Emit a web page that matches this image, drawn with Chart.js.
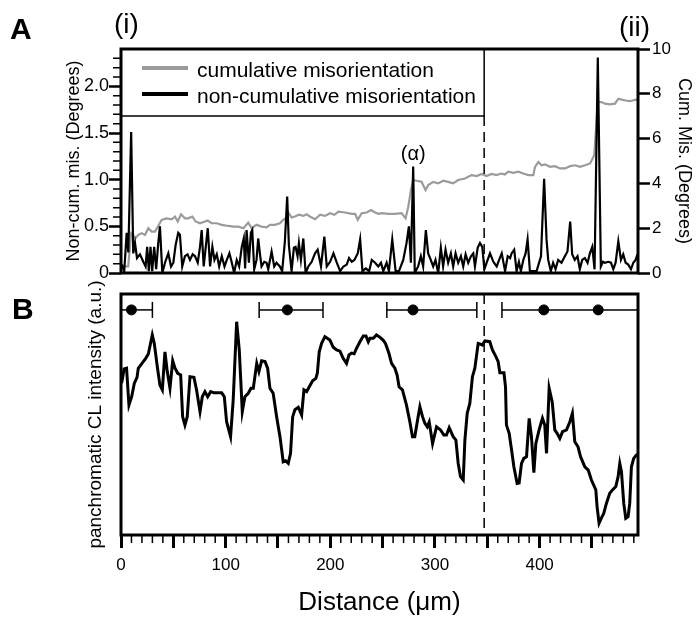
<!DOCTYPE html>
<html>
<head>
<meta charset="utf-8">
<script src="https://cdn.jsdelivr.net/npm/chart.js@4/dist/chart.umd.min.js"></script>
<style>
body { margin: 0; background: #fff; }
#wrap { position: relative; width: 696px; height: 622px; font-family: "Liberation Sans", Arial, sans-serif; }
canvas { position: absolute; left: 0; }
.lbl { position: absolute; line-height: 1; color: #000; white-space: nowrap; }
</style>
</head>
<body>
<div id="wrap">
  <canvas id="chartA" width="696" height="290" style="top:0"></canvas>
  <canvas id="chartB" width="696" height="342" style="top:280px"></canvas>
  <div class="lbl" style="left:10px;top:14px;font-size:30px;font-weight:bold">A</div>
  <div class="lbl" style="left:12px;top:294px;font-size:30px;font-weight:bold">B</div>
  <div class="lbl" style="left:114px;top:10px;font-size:28px">(i)</div>
  <div class="lbl" style="left:619px;top:13px;font-size:28px">(ii)</div>
</div>
<script>
// panel A: non-cumulative misorientation (left axis, degrees)
const noncumDist = [0.6, 3.1, 5.4, 7, 9.7, 11.7, 13.4, 15.3, 18.1, 21.3, 23.5, 25, 26.6, 28.2, 29.8, 31.7, 33.6, 35.6, 37.2, 39.5,
  42, 45.2, 47.8, 50, 52.2, 54.7, 56.3, 58.5, 61.1, 63.6, 65.9, 68.5, 70.7, 73.3, 75.5, 77.1, 79, 81, 82.9, 85.1,
  87.3, 89.3, 91.5, 93.8, 96.3, 98.9, 101.1, 103.6, 105.9, 108.1, 110.6, 112.9, 115.4, 117.3, 118.6, 120, 122.2, 124.1, 125.4, 127.3,
  129.5, 131.1, 132.7, 134.3, 136.9, 139.1, 140.7, 143.9, 146.4, 148.6, 151.8, 154, 156.6, 158.8, 160.4, 163, 165.2, 166.8, 168.7, 170,
  171.9, 174.2, 176.4, 179, 182.2, 185.4, 187.9, 191.1, 194.3, 196.6, 199.8, 203, 206.2, 209.4, 212.5, 215.7, 217.9, 220.5, 223, 226.2,
  228.5, 230.7, 233.9, 237.1, 239.6, 242.8, 245.8, 248.4, 250.6, 253.8, 256, 259.2, 262.4, 265.6, 269.7, 272.8, 275.1, 277, 279.2, 280.7,
  283.9, 286.5, 288.7, 291.3, 293.5, 296, 298.3, 300.5, 303.1, 305.6, 307.8, 310.1, 312.6, 315.2, 317.4, 319.7, 322.2, 324.8, 327, 329.3,
  331.8, 334.4, 336.6, 338.2, 340.8, 343, 345.2, 347.2, 349.4, 352.6, 355.8, 359, 361.3, 363.8, 367, 369.5, 371.8, 373.2, 375.7, 378,
  380.2, 382.1, 384.4, 386.6, 388.5, 390.7, 397.1, 401.3, 404.3, 406.6, 408.2, 410.7, 412.9, 415.2, 417.7, 420.9, 424.1, 426.6, 429.2, 431.1,
  433.6, 436.2, 438.4, 440.7, 443.2, 445.8, 448, 450.3, 452.5, 455.6, 458.5, 460.5, 462.4, 465.6, 468.2, 470.4, 472.6, 475.2, 477.7, 479.9,
  482.2, 484.7, 487.3, 489.5, 491.7, 493.5];
const noncumDeg = [0.09, 0.02, 0.43, 0.22, 1.51, 0.21, 0.32, 0.16, 0.2, 0.12, 0.07, 0.28, 0.02, 0.28, 0.02, 0.28, 0.04, 0.32, 0.5, 0,
  0.11, 0.21, 0.07, 0.11, 0.3, 0.43, 0.41, 0.07, 0.18, 0.2, 0.14, 0.2, 0.18, 0.11, 0.28, 0.46, 0.07, 0.28, 0.48, 0.07,
  0.28, 0.14, 0.2, 0.07, 0.18, 0.07, 0.14, 0.21, 0.11, 0, 0.14, 0.07, 0.28, 0.37, 0.05, 0.46, 0.11, 0.43, 0.46, 0.04,
  0.14, 0.37, 0.21, 0.07, 0.12, 0.11, 0.04, 0.23, 0.07, 0.11, 0.07, 0.02, 0.34, 0.82, 0.3, 0.02, 0.27, 0.28, 0.18, 0.32,
  0.14, 0.37, 0, 0.07, 0.12, 0.21, 0.25, 0.07, 0.39, 0.07, 0.12, 0.21, 0.11, 0.02, 0.07, 0.09, 0.16, 0.12, 0.14, 0.21,
  0.36, 0.02, 0.05, 0.02, 0.14, 0.11, 0.07, 0.11, 0.02, 0.11, 0.02, 0.36, 0.02, 0.02, 0.14, 0.32, 0.5, 0.11, 1.14, 0,
  0.07, 0.18, 0.07, 0.46, 0.21, 0.14, 0.07, 0.14, 0, 0.27, 0.07, 0.25, 0.11, 0.21, 0.07, 0.21, 0.11, 0.18, 0.07, 0.2,
  0.11, 0.18, 0.21, 0.07, 0.27, 0.32, 0.28, 0.04, 0.11, 0.21, 0.12, 0.07, 0.14, 0.21, 0.02, 0.18, 0.16, 0.21, 0.25, 0.02,
  0.12, 0.02, 0.14, 0.21, 0.36, 0.02, 0.02, 0.18, 1.01, 0.36, 0.14, 0.02, 0.11, 0.04, 0.14, 0.11, 0.18, 0.23, 0.55, 0.2,
  0.14, 0.18, 0.04, 0.14, 0.16, 0.11, 0.21, 0.28, 0.04, 2.31, 0.07, 0.12, 0.11, 0.12, 0.11, 0.04, 0.11, 0.34, 0.14, 0.2,
  0.11, 0.09, 0.04, 0.11, 0.14, 0.2];

// panel A: cumulative misorientation (right axis, degrees)
const cumDist = [0.6, 3.7, 6.9, 9.7, 11.7, 13.9, 16.5, 19.7, 22.9, 26.1, 29.3, 32.5, 35.6, 38.8, 43.6, 48.4, 51.6, 54.2, 57.3, 61.1,
  64.3, 68.2, 71.3, 75.5, 80.2, 82.8, 86.6, 91.4, 96.2, 102.6, 107.4, 112.1, 117, 121.6, 124.8, 129.5, 134.3, 139.1, 142.3, 147,
  151.8, 155, 157.2, 159.8, 163, 166.2, 170, 174.2, 177.4, 180.6, 185.4, 190.2, 194.9, 199.7, 203.9, 207.7, 214.1, 220.5, 223.7, 226.2,
  230, 234.8, 238.9, 242.8, 246, 249, 255.4, 261.7, 268.1, 271.9, 274.5, 277, 279.2, 282.4, 287.2, 291, 293.6, 298.3, 303.1, 307.9,
  312.6, 317.4, 322.2, 328.6, 335, 339.8, 344.5, 349.3, 354.1, 358.9, 363, 366.8, 370, 374.8, 379.6, 384.4, 389.2, 394, 395.6, 398.8,
  401.9, 405.1, 409.9, 414.7, 419.5, 424.3, 429.1, 433.8, 438.6, 443.4, 448.2, 452.2, 455.6, 459.2, 462.4, 467.2, 472, 475.2, 478.4, 482.2,
  486.3, 491.7, 493.8];
const cumDeg = [0.37, 0.3, 0.3, 1.78, 1.7, 1.55, 1.7, 1.78, 1.7, 2, 1.85, 1.85, 2.1, 2.37, 2.44, 2.4, 2.52, 2.3, 2.62, 2.44,
  2.44, 2.52, 2.3, 2.22, 2.3, 2.34, 2.22, 2.22, 2.15, 2.1, 2.07, 2.07, 2, 2.25, 2, 2.15, 2.07, 2.04, 2.15, 2.15,
  2.22, 2.37, 2.44, 2.7, 2.48, 2.52, 2.6, 2.55, 2.62, 2.52, 2.4, 2.6, 2.55, 2.67, 2.6, 2.74, 2.7, 2.64, 2.64, 2.37,
  2.67, 2.7, 2.81, 2.7, 2.64, 2.67, 2.64, 2.64, 2.67, 2.44, 2.96, 3.7, 4.15, 4.12, 4.07, 3.7, 3.93, 4.07, 4, 4.12,
  4.07, 4, 4.15, 4.22, 4.37, 4.33, 4.42, 4.33, 4.42, 4.37, 4.44, 4.4, 4.52, 4.47, 4.52, 4.44, 4.37, 4.37, 4.74, 4.96,
  4.81, 4.85, 4.74, 4.77, 4.67, 4.67, 4.77, 4.81, 4.74, 4.81, 4.89, 5.26, 7.63, 7.63, 7.56, 7.53, 7.56, 7.78, 7.74, 7.7,
  7.67, 7.74, 7.72];

// panel B: panchromatic CL intensity (a.u.)
const clDist = [0.5, 1.2, 2.9, 5.3, 7.6, 10.2, 12.7, 15.3, 16.5, 19.7, 23.6, 26.1, 29.9, 31.8, 34.7, 37.2, 39.5, 42, 44.2, 46.8,
  49.4, 51.6, 54.2, 57, 58.9, 61.1, 63.3, 65.9, 69.7, 72.2, 75.5, 77.7, 80.2, 82.8, 85.7, 88.8, 96.2, 98.7, 100.9, 104.7,
  107.2, 110.5, 113, 115.9, 118.4, 121.6, 124.2, 126.4, 129.7, 131.8, 134.4, 137.6, 140.1, 142.3, 145.4, 148.7, 151.9, 155, 157.2, 159.8,
  162, 164, 166.2, 169.4, 172.6, 174.8, 177.4, 179.9, 183.1, 186.2, 187.6, 189.4, 191.7, 194.8, 199.6, 202.8, 206, 209.2, 212.3, 215.5,
  217.8, 220.3, 222.8, 225.1, 228.3, 231.5, 234.1, 236.3, 237.9, 241.1, 244.1, 246.7, 250.4, 252.7, 256, 258.5, 261.7, 263.8, 265.7, 268.9,
  272.8, 276, 278.5, 280.7, 283.9, 285.6, 288.1, 290.4, 292.6, 294.5, 297.7, 301.5, 305.3, 308.5, 311, 313.6, 317.4, 320, 322.2, 324.4,
  327, 328.6, 330.8, 333.3, 335.8, 338.1, 341.3, 343.4, 345.3, 347.7, 352.4, 354.9, 358.2, 360.4, 362, 365.9, 367.4, 368.3, 370.9, 373.2,
  375.4, 378.5, 380.4, 382.7, 384.9, 387.5, 390, 392.2, 394.5, 396.4, 399.5, 402.7, 404.9, 406.6, 409.1, 412, 414.5, 416.7, 419.3, 421.9,
  425.7, 428.9, 431.3, 433.6, 436.7, 439.1, 443.2, 446.5, 449.5, 453.7, 454.9, 456.8, 459, 461.3, 463.8, 467, 469.6, 472.8, 475, 476.6,
  478.2, 480.4, 482.3, 484.5, 486.1, 487.7, 489.9, 492.5, 494];
const clIntensity = [63, 64.3, 68.9, 69.2, 53.9, 57.4, 62.9, 65.4, 69.2, 71, 73.3, 75.1, 83, 79.5, 69.8, 62.2, 60.2, 76, 67.8, 60.9,
  72.3, 69.2, 67.1, 66.4, 49.1, 45.6, 49.1, 65.7, 65.4, 60.2, 51.2, 57.4, 59.5, 57.4, 59.5, 59, 59, 57.4, 47, 40.8,
  56, 88.5, 76.8, 51.2, 57.4, 58.8, 60.9, 60.9, 71.2, 67.8, 72.3, 72, 69.2, 60.9, 58.8, 49.1, 40.8, 30.4, 30.8, 29.7,
  33.9, 49, 52, 53, 49.8, 60.2, 59.5, 61.5, 64, 65, 67.1, 76, 79.5, 82.3, 80.9, 77.9, 76.8, 76.3, 73.3, 71.2,
  74.7, 75.5, 75.2, 77.5, 80.2, 82.6, 82.6, 80.2, 81.6, 81.6, 83, 82.3, 80.9, 79.5, 75.4, 71.2, 69.2, 66.4, 61.5, 60.2,
  53.9, 47, 40.8, 40.8, 49.1, 53.2, 49.1, 46.3, 44.9, 46.9, 38, 44.9, 43.6, 41.5, 41.5, 44.5, 40.8, 39.4, 29.7, 24.2,
  22.8, 39.4, 50.5, 54.6, 65.7, 69.2, 79.5, 79.2, 78.8, 80.5, 80.2, 76.8, 74, 71.9, 67.3, 67.3, 61.5, 45.6, 42.2, 35.3,
  28.3, 21.4, 21.6, 29.7, 31.8, 32.5, 48.4, 40.8, 25.9, 38, 43.6, 48.4, 45.6, 33.9, 60.9, 55.3, 43.6, 42.2, 40.1, 42.9,
  43.6, 47, 50.5, 38.7, 36.6, 32.5, 28.3, 26.9, 22.8, 18.7, 11.8, 4.9, 7, 9, 13.1, 17.3, 18.7, 20.1, 24.2, 29.7,
  26.3, 13.1, 6.9, 7.6, 13.1, 28.3, 31.8, 33.2, 33.5];

// grain positions with ranges, boundary, ticks
const dotDist = [10, 159, 279, 404, 456];
const barFrom = [0, 132, 254, 364];
const barTo = [30, 193, 340, 494];
const barLevel = 93.4;
const boundaryDist = 347;
const alphaPeak = { x: 279.2, y: 1.14 };
const xMax = 494;
const leftTickValues = [0, 0.5, 1, 1.5, 2];
const leftTickLabels = ['0', '0.5', '1.0', '1.5', '2.0'];
const rightTickValues = [0, 2, 4, 6, 8, 10];
const distTickValues = [0, 100, 200, 300, 400];

const FONT = "'Liberation Sans', Arial, sans-serif";
Chart.defaults.font.family = FONT;
Chart.defaults.color = '#000';

function points(xs, ys) {
  return xs.map((x, i) => ({ x: x, y: ys[i] }));
}

// thick box round the plot area, plus the dashed grain boundary
const framePlugin = {
  id: 'frame',
  afterDatasetsDraw(chart, args, opts) {
    const a = chart.chartArea;
    const ctx = chart.ctx;
    const bx = chart.scales.x.getPixelForValue(boundaryDist);
    ctx.save();
    ctx.strokeStyle = '#000';
    ctx.lineWidth = 1.5;
    ctx.setLineDash([10, 6]);
    ctx.beginPath();
    ctx.moveTo(bx, a.top + opts.dashTop);
    ctx.lineTo(bx, a.bottom);
    ctx.stroke();
    ctx.setLineDash([]);
    ctx.lineWidth = 3;
    ctx.strokeRect(a.left, a.top, a.right - a.left, a.bottom - a.top);
    ctx.restore();
  }
};

const minorTicksPlugin = {
  id: 'minorTicks',
  afterDraw(chart, args, opts) {
    const s = chart.scales[opts.scale];
    const a = chart.chartArea;
    const ctx = chart.ctx;
    ctx.save();
    ctx.strokeStyle = '#000';
    ctx.lineWidth = opts.width;
    ctx.beginPath();
    opts.values.forEach(v => {
      const p = s.getPixelForValue(v);
      if (opts.side === 'left') {
        ctx.moveTo(a.left, p);
        ctx.lineTo(a.left - opts.length, p);
      } else {
        ctx.moveTo(p, a.bottom);
        ctx.lineTo(p, a.bottom + opts.length);
      }
    });
    ctx.stroke();
    ctx.restore();
  }
};

const legendBoxPlugin = {
  id: 'legendBox',
  afterDatasetsDraw(chart) {
    const a = chart.chartArea;
    const ctx = chart.ctx;
    const right = chart.scales.x.getPixelForValue(boundaryDist);
    const h = 67;
    ctx.save();
    ctx.fillStyle = '#fff';
    ctx.fillRect(a.left, a.top, right - a.left, h);
    ctx.strokeStyle = '#000';
    ctx.lineWidth = 1.5;
    ctx.strokeRect(a.left, a.top, right - a.left, h);
    const items = [
      { color: '#9b9b9b', text: 'cumulative misorientation', ly: 19, ty: 28 },
      { color: '#000', text: 'non-cumulative misorientation', ly: 45, ty: 54 }
    ];
    ctx.font = '21px ' + FONT;
    ctx.textBaseline = 'alphabetic';
    items.forEach(it => {
      ctx.strokeStyle = it.color;
      ctx.lineWidth = 4;
      ctx.beginPath();
      ctx.moveTo(a.left + 21, a.top + it.ly);
      ctx.lineTo(a.left + 67, a.top + it.ly);
      ctx.stroke();
      ctx.fillStyle = '#000';
      ctx.fillText(it.text, a.left + 76, a.top + it.ty);
    });
    // peak label
    const px = chart.scales.x.getPixelForValue(alphaPeak.x);
    const py = chart.scales.y.getPixelForValue(alphaPeak.y);
    ctx.font = '20px ' + FONT;
    ctx.textAlign = 'center';
    ctx.fillText('(\u03b1)', px, py - 7);
    ctx.restore();
  }
};

const minorA = [];
for (let i = 1; i <= 23; i++) if (i % 5 !== 0) minorA.push(i / 10);
const minorB = [];
for (let v = 10; v < xMax; v += 10) if (v % 50 !== 0) minorB.push(v);

new Chart(document.getElementById('chartA'), {
  type: 'line',
  data: {
    datasets: [{
      label: 'non-cumulative misorientation',
      data: points(noncumDist, noncumDeg),
      yAxisID: 'y',
      borderColor: '#000',
      borderWidth: 2.2,
      pointRadius: 0,
      tension: 0
    }, {
      label: 'cumulative misorientation',
      data: points(cumDist, cumDeg),
      yAxisID: 'y2',
      borderColor: '#9b9b9b',
      borderWidth: 2.2,
      pointRadius: 0,
      tension: 0
    }]
  },
  options: {
    responsive: false,
    animation: false,
    devicePixelRatio: 1,
    layout: { padding: { top: 49, left: 0, right: 0, bottom: 17 } },
    scales: {
      x: { type: 'linear', min: 0, max: xMax, display: false },
      y: {
        position: 'left',
        min: 0,
        max: 2.4,
        afterFit: s => { s.width = 121; },
        border: { display: false },
        grid: { drawOnChartArea: false, tickLength: 12, tickWidth: 2.5, tickColor: '#000', color: '#000' },
        ticks: {
          stepSize: 0.5,
          includeBounds: false,
          padding: 0,
          font: { size: 18 },
          callback: v => {
            const i = leftTickValues.indexOf(v);
            return i >= 0 ? leftTickLabels[i] : '';
          }
        },
        title: { display: true, text: 'Non-cum. mis. (Degrees)', font: { size: 18 }, padding: { top: 63, bottom: 0 } }
      },
      y2: {
        position: 'right',
        min: 0,
        max: 10,
        afterFit: s => { s.width = 58; },
        border: { display: false },
        grid: { drawOnChartArea: false, tickLength: 12, tickWidth: 2.5, tickColor: '#000', color: '#000' },
        ticks: {
          stepSize: 1,
          padding: 2,
          font: { size: 17 },
          callback: v => rightTickValues.includes(v) ? String(v) : ''
        },
        title: { display: true, text: 'Cum. Mis. (Degrees)', font: { size: 18 }, padding: { top: 1, bottom: 0 } }
      }
    },
    plugins: {
      legend: { display: false },
      tooltip: { enabled: false },
      frame: { dashTop: 67 },
      minorTicks: { scale: 'y', side: 'left', values: minorA, length: 8, width: 1.5 }
    }
  },
  plugins: [legendBoxPlugin, framePlugin, minorTicksPlugin]
});

const barSets = barFrom.map((from, i) => ({
  data: [{ x: from, y: barLevel }, { x: barTo[i], y: barLevel }],
  borderColor: '#000',
  borderWidth: 1.5,
  pointStyle: 'line',
  pointRotation: 90,
  pointBorderColor: '#000',
  pointBorderWidth: 1.5,
  pointRadius: ctx => (ctx.raw && (ctx.raw.x <= 0 || ctx.raw.x >= xMax)) ? 0 : 8,
  tension: 0
}));

new Chart(document.getElementById('chartB'), {
  type: 'line',
  data: {
    datasets: [{
      label: 'grain centres',
      data: dotDist.map(d => ({ x: d, y: barLevel })),
      showLine: false,
      pointRadius: 5,
      pointBackgroundColor: '#000',
      pointBorderColor: '#000'
    }].concat(barSets).concat([{
      label: 'panchromatic CL intensity',
      data: points(clDist, clIntensity),
      borderColor: '#000',
      borderWidth: 3,
      pointRadius: 0,
      tension: 0
    }])
  },
  options: {
    responsive: false,
    animation: false,
    devicePixelRatio: 1,
    layout: { padding: { top: 14, left: 0, right: 58, bottom: 0 } },
    scales: {
      x: {
        type: 'linear',
        min: 0,
        max: xMax,
        afterFit: s => { s.height = 87; },
        border: { display: false },
        grid: { drawOnChartArea: false, tickLength: 13, tickWidth: 3, tickColor: '#000', color: '#000' },
        ticks: {
          stepSize: 50,
          includeBounds: false,
          autoSkip: false,
          maxRotation: 0,
          padding: 7,
          font: { size: 17 },
          callback: v => distTickValues.includes(v) ? String(v) : ''
        },
        title: { display: true, text: 'Distance (\u03bcm)', font: { size: 26 }, padding: { top: 0, bottom: 4 } }
      },
      y: {
        min: 0,
        max: 100,
        afterFit: s => { s.width = 121; },
        border: { display: false },
        grid: { display: false },
        ticks: { display: false },
        title: { display: true, text: 'panchromatic CL intensity (a.u.)', font: { size: 19 }, padding: { top: 84, bottom: 0 } }
      }
    },
    plugins: {
      legend: { display: false },
      tooltip: { enabled: false },
      frame: { dashTop: 0 },
      minorTicks: { scale: 'x', side: 'bottom', values: minorB, length: 8, width: 1.5 }
    }
  },
  plugins: [framePlugin, minorTicksPlugin]
});
</script>
</body>
</html>
